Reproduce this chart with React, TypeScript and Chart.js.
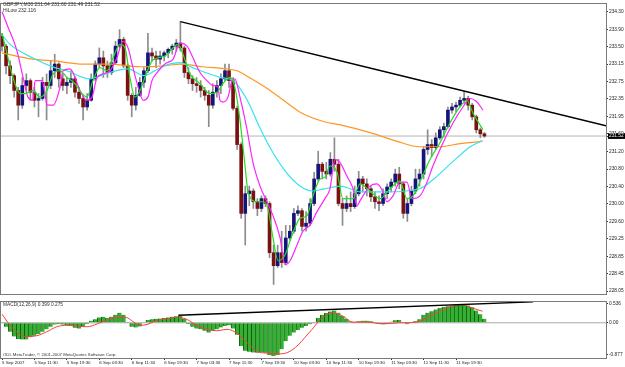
import React, { useEffect, useRef } from "react";
import { Chart, registerables } from "chart.js";
Chart.register(...registerables);

// ---------- texts ----------
const symbolTitle = "GBPJPY,M30 231.64 231.60 231.49 231.52";
const hiLowText = "HiLow 232.116";
const macdTitle = "MACD(12,26,9) 0.399 0.275";
const copyright = "ODL MetaTrader, © 2001-2007 MetaQuotes Software Corp.";

// ---------- axes ----------
const timeLabels = [
  "5 Sep 2007", "5 Sep 11:30", "5 Sep 19:30", "6 Sep 03:30", "6 Sep 11:30",
  "6 Sep 19:30", "7 Sep 03:30", "7 Sep 11:30", "7 Sep 19:30", "10 Sep 03:30",
  "10 Sep 11:30", "10 Sep 19:30", "11 Sep 03:30", "11 Sep 11:30", "11 Sep 19:30",
];
const barsPerTimeLabel = 16;
const priceTickValues = [234.30, 233.91, 233.52, 233.13, 232.74, 232.35, 231.96, 231.57, 231.18, 230.78, 230.39, 230.00, 229.61, 229.22, 228.83, 228.44, 228.05];
const priceTickLabels = ["234.30", "233.90", "233.50", "233.15", "232.75", "232.35", "231.95", "231.60", "231.20", "230.80", "230.40", "230.00", "229.60", "229.25", "228.85", "228.45", "228.05"];
const lastPrice = 231.52;
const macdTickValues = [0.536, 0, -0.877];
const macdTickLabels = ["0.536", "0.00", "-0.877"];

// ---------- candles (one per hour = 2 M30 bars): [open, high, low, close] ----------
const candles: number[][] = [
  [233.75, 233.82, 233.42, 233.53], [233.53, 233.57, 232.91, 233.09], [233.09, 233.20, 232.69, 232.87], [232.87, 232.91, 232.39, 232.54],
  [232.54, 232.61, 231.88, 232.21], [232.21, 232.83, 232.14, 232.65], [232.65, 232.91, 232.54, 232.76], [232.76, 232.80, 232.32, 232.50],
  [232.50, 232.61, 232.17, 232.32], [232.32, 232.47, 231.95, 232.36], [232.36, 232.83, 232.32, 232.72], [232.72, 232.91, 231.88, 232.65],
  [232.65, 233.20, 232.58, 232.98], [232.98, 233.35, 232.83, 233.13], [233.13, 233.16, 232.61, 232.80], [232.80, 232.91, 232.54, 232.65],
  [232.65, 232.83, 232.47, 232.72], [232.72, 232.98, 232.61, 232.80], [232.80, 232.85, 232.39, 232.50], [232.50, 232.61, 232.25, 232.36],
  [232.36, 232.41, 231.88, 232.17], [232.17, 232.47, 232.10, 232.32], [232.32, 232.91, 232.30, 232.80], [232.80, 233.20, 232.76, 233.13],
  [233.13, 233.49, 233.05, 233.27], [233.27, 233.42, 232.83, 233.09], [233.09, 233.20, 232.83, 232.94], [232.94, 233.35, 232.89, 233.16],
  [233.16, 233.64, 233.13, 233.53], [233.53, 233.90, 233.49, 233.68], [233.68, 233.73, 233.05, 233.09], [233.09, 233.13, 232.32, 232.43],
  [232.43, 232.47, 231.95, 232.21], [232.21, 232.61, 232.10, 232.43], [232.43, 232.83, 232.41, 232.72], [232.72, 233.05, 232.61, 232.98],
  [232.98, 233.82, 232.94, 233.38], [233.38, 233.49, 233.20, 233.31], [233.31, 233.42, 233.05, 233.24], [233.24, 233.42, 233.13, 233.31],
  [233.31, 233.42, 233.20, 233.38], [233.38, 233.49, 233.27, 233.46], [233.46, 233.57, 233.35, 233.53], [233.53, 233.68, 233.42, 233.60],
  [233.60, 234.08, 233.42, 233.49], [233.49, 233.53, 232.83, 232.94], [232.94, 233.05, 232.69, 232.80], [232.80, 232.87, 232.54, 232.69],
  [232.69, 232.83, 232.50, 232.65], [232.65, 232.76, 232.39, 232.54], [232.54, 232.61, 232.32, 232.43], [232.43, 232.54, 231.73, 232.21],
  [232.21, 232.69, 232.14, 232.50], [232.50, 232.76, 232.39, 232.65], [232.65, 232.91, 232.47, 232.80], [232.80, 233.13, 232.76, 232.98],
  [232.98, 233.13, 232.61, 232.76], [232.76, 232.83, 232.10, 232.14], [232.14, 232.19, 231.22, 231.33], [231.33, 231.37, 229.68, 229.79],
  [229.79, 230.40, 229.08, 230.23], [230.23, 230.40, 229.96, 230.29], [230.29, 230.34, 229.90, 230.05], [230.05, 230.12, 229.74, 229.90],
  [229.90, 230.18, 229.83, 230.12], [230.12, 230.18, 229.94, 230.01], [230.01, 230.05, 228.80, 228.91], [228.91, 229.08, 228.20, 228.62],
  [228.62, 229.08, 228.58, 228.91], [228.91, 229.39, 228.58, 228.69], [228.69, 229.52, 228.64, 229.24], [229.24, 229.52, 229.19, 229.39],
  [229.39, 229.90, 229.35, 229.79], [229.79, 229.96, 229.74, 229.85], [229.85, 229.90, 229.39, 229.50], [229.50, 229.83, 229.39, 229.57],
  [229.57, 230.12, 229.52, 230.01], [230.01, 230.71, 229.96, 230.56], [230.56, 231.18, 230.51, 230.89], [230.89, 230.93, 230.56, 230.73],
  [230.73, 230.93, 230.56, 230.67], [230.67, 231.15, 230.62, 231.00], [231.00, 231.48, 230.73, 230.89], [230.89, 231.00, 229.96, 230.01],
  [230.01, 230.12, 229.52, 229.90], [229.90, 230.18, 229.83, 230.01], [230.01, 230.27, 229.83, 229.94], [229.94, 230.40, 229.90, 230.23],
  [230.23, 230.73, 230.18, 230.56], [230.56, 230.62, 230.27, 230.45], [230.45, 230.56, 230.18, 230.34], [230.34, 230.40, 230.05, 230.16],
  [230.16, 230.27, 229.90, 230.05], [230.05, 230.18, 229.85, 230.01], [230.01, 230.34, 229.96, 230.23], [230.23, 230.45, 230.12, 230.38],
  [230.38, 230.56, 230.27, 230.49], [230.49, 230.78, 230.40, 230.67], [230.67, 230.82, 230.34, 230.45], [230.45, 230.49, 229.68, 229.79],
  [229.79, 230.12, 229.61, 230.01], [230.01, 230.40, 229.96, 230.29], [230.29, 230.78, 230.23, 230.56], [230.56, 230.78, 230.40, 230.67],
  [230.67, 231.28, 230.56, 231.22], [231.22, 231.66, 231.11, 231.33], [231.33, 231.44, 231.06, 231.26], [231.26, 231.59, 231.22, 231.48],
  [231.48, 231.73, 231.44, 231.66], [231.66, 231.81, 231.50, 231.73], [231.73, 232.17, 231.70, 232.10], [232.10, 232.25, 232.03, 232.17],
  [232.17, 232.28, 232.06, 232.21], [232.21, 232.39, 232.17, 232.32], [232.32, 232.52, 232.25, 232.36], [232.36, 232.41, 232.10, 232.21],
  [232.21, 232.25, 231.88, 231.95], [231.95, 231.99, 231.59, 231.66], [231.66, 231.70, 231.48, 231.57], [231.57, 231.60, 231.49, 231.52],
];
const barsPerCandle = 2;

// ---------- moving averages: [bar, price] ----------
const maGreen = [
  [0, 233.82], [2.5, 233.35], [5.4, 232.83], [8.9, 232.47], [11.3, 232.47], [15.3, 232.54], [18.7, 232.39], [22.2, 232.54],
  [25.2, 232.91], [28.6, 232.98], [32.1, 232.83], [36, 232.69], [39.5, 232.47], [41.9, 232.39], [44.9, 232.76], [48.3, 233.05],
  [51.8, 232.98], [54.8, 233.27], [58.2, 233.57], [60.7, 233.49], [63.1, 232.83], [65.6, 232.39], [68.1, 232.54], [70.5, 232.83],
  [74, 233.20], [77, 233.27], [80.4, 233.31], [82.9, 233.42], [86.8, 233.57], [89.3, 233.35], [92.7, 232.91], [97.7, 232.69],
  [102.6, 232.47], [106.1, 232.50], [109, 232.69], [112.5, 232.83], [114.9, 232.61], [117.4, 231.88], [119.9, 230.85], [121.4, 230.27],
  [125.8, 230.05], [128.8, 230.05], [131.2, 229.90], [133.7, 229.24], [136.2, 228.73], [139.6, 228.86], [143.1, 229.30], [147, 229.68],
  [150.5, 229.74], [153.4, 230.18], [156.9, 230.56], [159.3, 230.60], [161.8, 230.85], [165.3, 230.71], [168.2, 230.12], [173.2, 230.12],
  [176.6, 230.45], [181.5, 230.29], [186.5, 230.12], [191.4, 230.34], [196.3, 230.51], [199.8, 230.12], [202.8, 230.18], [206.2, 230.49],
  [211.2, 231.00], [216.1, 231.37], [221, 231.81], [225.9, 232.17], [229.4, 232.32], [232.4, 232.03], [237.3, 231.66],
];
const maMagenta = [
  [0, 234.30], [2.5, 234.01], [7.4, 233.42], [10.4, 232.83], [12.8, 232.39], [15.3, 232.32], [16.3, 232.76], [19.7, 232.76],
  [21.2, 232.47], [22.2, 232.21], [25.2, 232.21], [28.6, 232.61], [30.1, 232.98], [33.5, 233.02], [35, 232.94], [38.5, 232.54],
  [41.9, 232.32], [44.4, 232.39], [46.9, 232.83], [49.8, 232.91], [53.3, 232.98], [56.7, 233.27], [59.7, 233.64], [62.2, 233.49],
  [64.6, 233.05], [68.1, 232.47], [69.6, 232.32], [72, 232.39], [74, 232.76], [76.5, 232.94], [80.4, 233.13], [81.4, 233.16],
  [84.4, 233.24], [87.8, 233.60], [91.3, 233.53], [94.2, 233.27], [97.7, 232.94], [101.1, 232.76], [104.1, 232.65], [106.6, 232.61],
  [107.5, 232.32], [109, 232.28], [111.5, 232.39], [113.5, 232.76], [114.9, 232.80], [117.4, 232.39], [120.9, 231.66], [123.8, 230.93],
  [127.3, 230.40], [130.7, 230.05], [133.7, 229.74], [137.2, 229.24], [139.6, 228.64], [142.1, 228.73], [145.5, 229.08], [148.5, 229.39],
  [151.9, 229.52], [155.4, 229.83], [159.3, 230.12], [161.8, 230.34], [164.3, 231.00], [166.7, 230.93], [170.2, 230.62], [173.2, 230.34],
  [175.1, 229.96], [176.6, 230.07], [181.5, 230.40], [185, 230.45], [188, 230.27], [189.9, 230.05], [192.9, 230.18], [196.3, 230.49],
  [199.8, 230.49], [202.3, 230.12], [206.2, 230.18], [209.7, 230.49], [212.6, 230.85], [217.6, 231.37], [222.5, 231.81], [227.4, 232.17],
  [230.9, 232.36], [234.3, 232.28], [237.3, 232.10],
];
const maCyan = [
  [0, 233.79], [4, 233.57], [15, 233.27], [26, 233.05], [32, 232.98], [43, 232.80], [53, 232.94], [62, 233.02], [70, 232.87],
  [77, 233.02], [80, 233.09], [88, 233.16], [94, 233.05], [108, 232.83], [114, 232.76], [121, 232.32], [127, 231.73], [132, 231.28],
  [139, 230.78], [147, 230.40], [153, 230.29], [159, 230.34], [167, 230.40], [177, 230.27], [190, 230.27], [206, 230.34],
  [213, 230.56], [222, 230.93], [231, 231.28], [237, 231.42],
];
const maOrange = [
  [0, 233.38], [15, 233.24], [26, 233.20], [40, 233.13], [53, 233.13], [68, 233.07], [80, 233.09], [88, 233.13], [99, 233.07],
  [111, 233.02], [116, 232.98], [122, 232.83], [131, 232.58], [141, 232.25], [148, 232.03], [159, 231.84], [167, 231.77],
  [182, 231.59], [195, 231.40], [206, 231.28], [216, 231.28], [226, 231.35], [237, 231.40],
];
const trendLine = [[88, 234.08], [298, 231.75]];

// ---------- MACD ----------
const macdHist = [
  0.02, -0.11, -0.25, -0.38, -0.45, -0.46, -0.46, -0.40, -0.36, -0.31, -0.25, -0.18, -0.11, -0.05, -0.04, -0.05,
  -0.07, -0.09, -0.14, -0.16, -0.10, -0.03, 0.06, 0.10, 0.15, 0.17, 0.13, 0.17, 0.22, 0.28, 0.22, 0.02,
  -0.11, -0.13, -0.10, -0.01, 0.08, 0.10, 0.11, 0.12, 0.13, 0.15, 0.17, 0.18, 0.19, 0.11, -0.03, -0.11,
  -0.16, -0.18, -0.22, -0.27, -0.22, -0.18, -0.13, -0.09, -0.07, -0.16, -0.33, -0.64, -0.77, -0.80, -0.82, -0.83,
  -0.82, -0.83, -0.89, -0.92, -0.89, -0.73, -0.51, -0.36, -0.27, -0.20, -0.14, -0.09, -0.04, 0.02, 0.13, 0.22,
  0.27, 0.31, 0.34, 0.28, 0.19, 0.11, 0.04, 0.01, 0.04, 0.06, 0.06, 0.04, 0.01, -0.03, -0.04, -0.03,
  0.03, 0.07, 0.08, -0.01, -0.04, 0.00, 0.04, 0.10, 0.22, 0.28, 0.32, 0.37, 0.41, 0.44, 0.46, 0.47,
  0.49, 0.50, 0.50, 0.48, 0.43, 0.34, 0.24, 0.11,
];
const macdSignal = [
  [0, 0.24], [4, -0.07], [9, -0.33], [12, -0.38], [17, -0.36], [22, -0.25], [27, -0.11], [32, -0.07], [37, -0.09],
  [42, -0.11], [47, -0.03], [52, 0.08], [57, 0.15], [61, 0.15], [65, 0.02], [68, -0.07], [72, -0.04], [76, 0.06],
  [81, 0.10], [86, 0.15], [91, 0.10], [96, -0.07], [101, -0.18], [106, -0.22], [111, -0.18], [116, -0.29], [121, -0.55],
  [126, -0.80], [131, -0.84], [136, -0.86], [141, -0.82], [146, -0.62], [149.5, -0.40], [153, -0.18], [157, 0.08],
  [163, 0.28], [168, 0.19], [173, 0.02], [180, 0.02], [188, -0.03], [196, 0.00], [205, 0.02], [210, 0.15], [216, 0.32],
  [222, 0.46], [227, 0.50], [232, 0.41], [237, 0.32],
];
const macdTrend = [[87, 0.21], [262, 0.58]];

// ---------- layout / style ----------
const X_MIN = -0.5;
const X_MAX = 298;
const Y_MIN = 227.984;
const Y_MAX = 234.476;
const M_MIN = -0.974;
const M_MAX = 0.579;
const AXIS_W = 19;
const FONT = "'Liberation Sans', Arial, sans-serif";
const PRICE_FONT = { family: FONT, size: 4.8 };
const TIME_FONT = { family: FONT, size: 4.4 };
const UP = "#14147a";
const DOWN = "#7a1010";
const WICK = "#8c8c8c";

const toPts = (arr: number[][]) => arr.map(([x, y]) => ({ x, y }));

const framePlugin = {
  id: "frame",
  afterDatasetsDraw(chart: any) {
    const { ctx, chartArea: a } = chart;
    ctx.save();
    ctx.strokeStyle = "#7a7a7a";
    ctx.lineWidth = 1;
    ctx.strokeRect(Math.round(a.left) - 0.5, Math.round(a.top) - 0.5, Math.round(a.right - a.left) + 1, Math.round(a.bottom - a.top) + 1);
    ctx.restore();
  },
};

const lineDs = (data: any[], color: string, order: number, width = 1.2) => ({
  type: "line" as const,
  data,
  borderColor: color,
  borderWidth: width,
  pointRadius: 0,
  cubicInterpolationMode: "monotone" as const,
  fill: false,
  order,
  clip: 0,
});

function Overlay({ text, left, top, size, color = "#333" }: { text: string; left: number; top: number; size: number; color?: string }) {
  return (
    <div
      style={{
        position: "absolute",
        left,
        top,
        fontFamily: FONT,
        fontSize: size * 2,
        lineHeight: `${size * 2}px`,
        whiteSpace: "nowrap",
        color,
        transform: "scale(0.5)",
        transformOrigin: "0 0",
        pointerEvents: "none",
      }}
    >
      {text}
    </div>
  );
}

export default function App() {
  const mainRef = useRef<HTMLCanvasElement>(null);
  const macdRef = useRef<HTMLCanvasElement>(null);

  useEffect(() => {
    document.body.style.margin = "0";
    const cx = candles.map((_, i) => i * barsPerCandle);
    const wickData = candles.map((c, i) => ({ x: cx[i], y: [c[2], c[1]] }));
    const bodyData = candles.map((c, i) => ({ x: cx[i], y: [Math.min(c[0], c[3]), Math.max(c[0], c[3])] }));
    const bodyColors = candles.map((c) => (c[3] >= c[0] ? UP : DOWN));
    const lastIdx = priceTickValues.length;

    const main = new Chart(mainRef.current!, {
      type: "bar",
      data: {
        datasets: [
          lineDs(toPts(trendLine), "#000000", 0, 1.4),
          lineDs(toPts(maGreen), "#22dd22", 1),
          lineDs(toPts(maMagenta), "#ff22ff", 2),
          lineDs(toPts(maCyan), "#33e3f0", 3),
          lineDs(toPts(maOrange), "#ff9522", 4),
          lineDs([{ x: X_MIN, y: lastPrice }, { x: X_MAX, y: lastPrice }], "#b4b4b4", 7, 1),
          { type: "bar", data: bodyData as any, backgroundColor: bodyColors, barThickness: 3, grouped: false, minBarLength: 1, order: 5 },
          { type: "bar", data: wickData as any, backgroundColor: WICK, barThickness: 1, grouped: false, minBarLength: 1, order: 6 },
        ] as any,
      },
      options: {
        animation: false,
        responsive: false,
        maintainAspectRatio: false,
        events: [],
        layout: { padding: { left: 1, top: 2, right: 0, bottom: 1 } },
        plugins: { legend: { display: false }, tooltip: { enabled: false } },
        scales: {
          x: { type: "linear", min: X_MIN, max: X_MAX, display: false, offset: false, grid: { offset: false } },
          y: {
            type: "linear",
            position: "right",
            min: Y_MIN,
            max: Y_MAX,
            afterFit: (s: any) => { s.width = AXIS_W; },
            afterBuildTicks: (s: any) => {
              s.ticks = [...priceTickValues.map((v) => ({ value: v })), { value: lastPrice }];
            },
            ticks: {
              autoSkip: false,
              padding: 1,
              font: PRICE_FONT,
              color: (ctx: any) => (ctx.index === lastIdx ? "#ffffff" : "#222222"),
              showLabelBackdrop: (ctx: any) => ctx.index === lastIdx,
              backdropColor: "#000000",
              backdropPadding: { top: 0, bottom: 0, left: 1, right: 2 },
              callback: (_v: any, i: number) => (i < priceTickLabels.length ? priceTickLabels[i] : lastPrice.toFixed(2)),
            } as any,
            grid: { drawOnChartArea: false, drawTicks: true, tickLength: 2, color: "#333333" },
            border: { display: true, color: "#7a7a7a" },
          },
        },
      } as any,
      plugins: [framePlugin],
    });

    const macd = new Chart(macdRef.current!, {
      type: "bar",
      data: {
        datasets: [
          lineDs(toPts(macdTrend), "#000000", 0, 1.4),
          lineDs(toPts(macdSignal), "#ff3c3c", 1, 1),
          lineDs([{ x: X_MIN, y: 0 }, { x: X_MAX, y: 0 }], "#a8a8a8", 3, 1),
          {
            type: "bar",
            data: macdHist.map((v, i) => ({ x: i * barsPerCandle, y: v })) as any,
            backgroundColor: "#35b035",
            borderColor: "#0c600c",
            borderWidth: { left: 1, right: 0, top: 0, bottom: 0 },
            borderSkipped: false,
            barThickness: 4,
            grouped: false,
            order: 2,
          },
        ] as any,
      },
      options: {
        animation: false,
        responsive: false,
        maintainAspectRatio: false,
        events: [],
        layout: { padding: { left: 1, top: 1, right: 0, bottom: 0 } },
        plugins: { legend: { display: false }, tooltip: { enabled: false } },
        scales: {
          x: {
            type: "linear",
            min: X_MIN,
            max: X_MAX,
            offset: false,
            afterFit: (s: any) => { s.height = 9; },
            afterBuildTicks: (s: any) => {
              s.ticks = timeLabels.map((_, i) => ({ value: i * barsPerTimeLabel }));
            },
            ticks: {
              autoSkip: false,
              maxRotation: 0,
              minRotation: 0,
              align: "start",
              padding: 0,
              font: TIME_FONT,
              color: "#222222",
              callback: (_v: any, i: number) => timeLabels[i],
            },
            grid: { drawOnChartArea: false, drawTicks: true, tickLength: 2, color: "#333333", offset: false },
            border: { display: true, color: "#7a7a7a" },
          },
          y: {
            type: "linear",
            position: "right",
            min: M_MIN,
            max: M_MAX,
            afterFit: (s: any) => { s.width = AXIS_W; },
            afterBuildTicks: (s: any) => {
              s.ticks = macdTickValues.map((v) => ({ value: v }));
            },
            ticks: {
              autoSkip: false,
              padding: 1,
              font: PRICE_FONT,
              color: "#222222",
              callback: (_v: any, i: number) => macdTickLabels[i],
            },
            grid: { drawOnChartArea: false, drawTicks: true, tickLength: 2, color: "#333333" },
            border: { display: true, color: "#7a7a7a" },
          },
        },
      } as any,
      plugins: [framePlugin],
    });

    return () => {
      main.destroy();
      macd.destroy();
    };
  }, []);

  return (
    <div style={{ position: "absolute", left: 0, top: 0, width: 625, height: 367, background: "#ffffff", overflow: "hidden" }}>
      <canvas ref={mainRef} width={625} height={298} style={{ position: "absolute", left: 0, top: 0 }} />
      <canvas ref={macdRef} width={625} height={69} style={{ position: "absolute", left: 0, top: 298 }} />
      <Overlay text={symbolTitle} left={3} top={2} size={5} />
      <Overlay text={hiLowText} left={3} top={8} size={5} />
      <Overlay text={macdTitle} left={3} top={302} size={4.8} />
      <Overlay text={copyright} left={3} top={352} size={4.3} />
    </div>
  );
}
